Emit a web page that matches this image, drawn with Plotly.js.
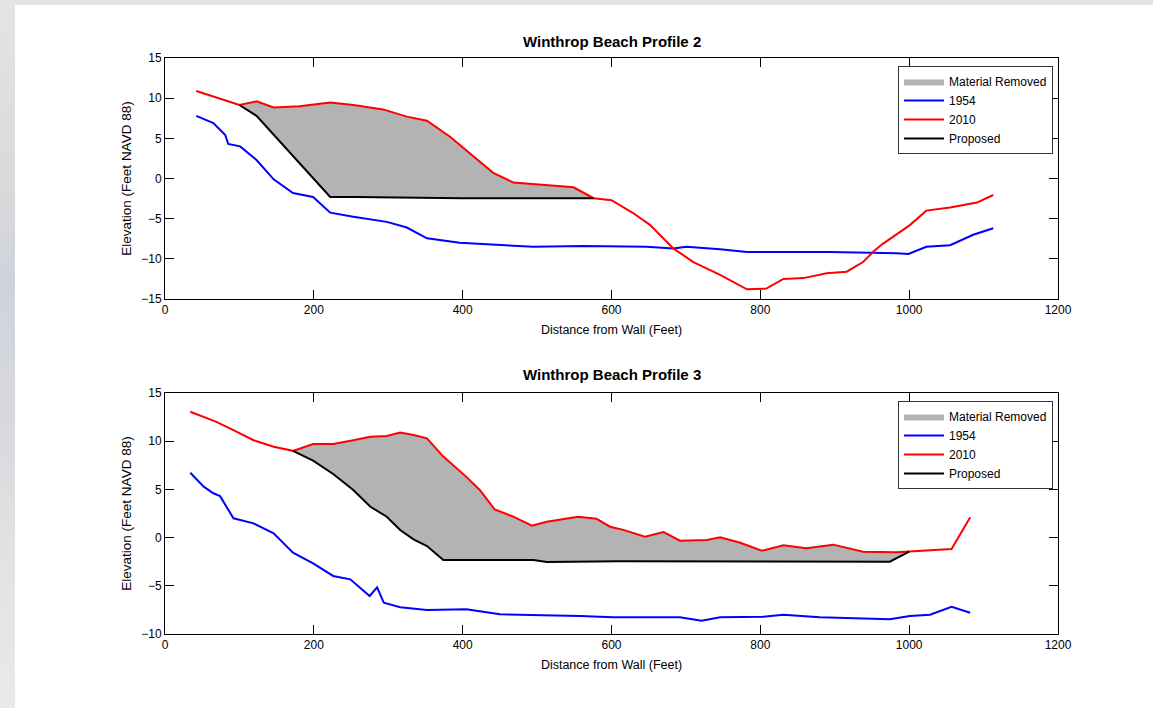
<!DOCTYPE html>
<html><head><meta charset="utf-8">
<script src="https://cdn.plot.ly/plotly-3.0.1.min.js"></script>
<style>
html,body{margin:0;padding:0;}
body{width:1153px;height:708px;overflow:hidden;position:relative;
background:linear-gradient(to bottom,#e4e4e4 0%,#dadada 25%,#cfd3dc 40%,#d8d9dd 60%,#e3e3e3 80%,#e9e9e9 100%);}
#panel{position:absolute;left:15px;top:5px;right:0;bottom:0;background:#fff;}
#chart{position:absolute;left:0;top:0;width:1153px;height:708px;}
</style></head><body><div id="panel"></div><div id="chart"></div>
<script>
// ---------- Profile 2 ----------
const p2_x_1954 = [42, 65, 81, 85, 101, 123, 146, 172, 199, 222, 253, 298, 325, 352, 396, 450, 495, 562, 611, 647, 683, 701, 746, 782, 826, 894, 983, 999, 1023, 1055, 1086, 1113];
const p2_y_1954 = [7.8, 6.9, 5.4, 4.3, 4.0, 2.3, -0.1, -1.8, -2.3, -4.25, -4.75, -5.4, -6.1, -7.45, -8.0, -8.3, -8.5, -8.4, -8.5, -8.5, -8.7, -8.5, -8.8, -9.15, -9.15, -9.15, -9.3, -9.4, -8.5, -8.3, -7.0, -6.2];
const p2_x_2010 = [42, 100, 123, 146, 181, 222, 253, 293, 325, 352, 383, 410, 441, 468, 495, 549, 576, 600, 629, 652, 683, 710, 746, 782, 808, 831, 858, 889, 916, 938, 952, 965, 1001, 1023, 1055, 1091, 1113];
const p2_y_2010 = [10.9, 9.15, 9.6, 8.85, 9.0, 9.45, 9.15, 8.6, 7.7, 7.2, 5.2, 3.1, 0.7, -0.5, -0.7, -1.1, -2.45, -2.7, -4.3, -5.8, -8.7, -10.4, -12.0, -13.8, -13.7, -12.5, -12.4, -11.8, -11.6, -10.4, -9.1, -8.1, -5.8, -4.0, -3.6, -3.0, -2.05];
const p2_x_prop = [100, 123, 222, 256, 399, 576];
const p2_y_prop = [9.15, 7.8, -2.3, -2.3, -2.45, -2.45];

// ---------- Profile 3 ----------
const p3_x_1954 = [34, 52, 65, 74, 92, 119, 146, 172, 199, 226, 249, 275, 285, 294, 316, 352, 405, 450, 508, 558, 602, 692, 721, 746, 804, 831, 880, 956, 974, 1001, 1028, 1057, 1082];
const p3_y_1954 = [6.73, 5.28, 4.6, 4.3, 2.0, 1.48, 0.44, -1.56, -2.67, -3.98, -4.33, -6.06, -5.16, -6.75, -7.23, -7.5, -7.44, -7.96, -8.06, -8.13, -8.27, -8.27, -8.62, -8.27, -8.2, -8.0, -8.27, -8.4, -8.48, -8.13, -8.0, -7.17, -7.8];
const p3_x_2010 = [34, 52, 69, 92, 119, 146, 172, 199, 226, 253, 276, 298, 316, 334, 352, 374, 405, 423, 443, 468, 493, 513, 531, 555, 580, 598, 616, 645, 670, 692, 728, 746, 773, 802, 831, 862, 898, 938, 983, 1000, 1028, 1057, 1082];
const p3_y_2010 = [13.06, 12.55, 12.0, 11.15, 10.1, 9.43, 9.0, 9.7, 9.7, 10.1, 10.47, 10.54, 10.9, 10.64, 10.3, 8.4, 6.3, 4.94, 2.93, 2.17, 1.24, 1.65, 1.9, 2.17, 1.95, 1.13, 0.8, 0.1, 0.58, -0.32, -0.25, 0.04, -0.53, -1.36, -0.8, -1.1, -0.73, -1.46, -1.53, -1.45, -1.36, -1.18, 2.1];
const p3_x_prop = [172, 199, 226, 253, 276, 298, 316, 334, 352, 374, 495, 513, 611, 974, 1000];
const p3_y_prop = [9.0, 7.98, 6.6, 4.94, 3.2, 2.17, 0.79, -0.18, -0.87, -2.32, -2.32, -2.53, -2.45, -2.5, -1.45];

const xTicks = [0, 200, 400, 600, 800, 1000, 1200];
const legendNames = ['Material Removed', '1954', '2010', 'Proposed'];
const titles = ['Winthrop Beach Profile 2', 'Winthrop Beach Profile 3'];
const xTitle = 'Distance from Wall (Feet)';
const yTitle = 'Elevation (Feet NAVD 88)';

function fillPoly(px, py, rx, ry) {
  const x0 = px[0], x1 = px[px.length - 1];
  const fx = px.slice(), fy = py.slice();
  for (let i = rx.length - 1; i >= 0; i--) {
    if (rx[i] >= x0 && rx[i] <= x1) { fx.push(rx[i]); fy.push(ry[i]); }
  }
  return {x: fx, y: fy};
}

const FONT = 'Liberation Sans, Arial, Helvetica, sans-serif';
function profileTraces(xa, ya, leg, bx, by, rx, ry, px, py) {
  const f = fillPoly(px, py, rx, ry);
  return [
    {type: 'scatter', x: f.x, y: f.y, xaxis: xa, yaxis: ya, legend: leg, name: legendNames[0],
     mode: 'lines', fill: 'toself', fillcolor: 'rgb(179,179,179)', line: {width: 0, color: 'rgb(179,179,179)'}, hoverinfo: 'skip'},
    {type: 'scatter', x: bx, y: by, xaxis: xa, yaxis: ya, legend: leg, name: legendNames[1],
     mode: 'lines', line: {color: '#0000ff', width: 2}},
    {type: 'scatter', x: rx, y: ry, xaxis: xa, yaxis: ya, legend: leg, name: legendNames[2],
     mode: 'lines', line: {color: '#ff0000', width: 2}},
    {type: 'scatter', x: px, y: py, xaxis: xa, yaxis: ya, legend: leg, name: legendNames[3],
     mode: 'lines', line: {color: '#000000', width: 2}}
  ];
}

const data = [].concat(
  profileTraces('x', 'y', 'legend', p2_x_1954, p2_y_1954, p2_x_2010, p2_y_2010, p2_x_prop, p2_y_prop),
  profileTraces('x2', 'y2', 'legend2', p3_x_1954, p3_y_1954, p3_x_2010, p3_y_2010, p3_x_prop, p3_y_prop)
);

function xAxis(anchor) {
  return {anchor: anchor, domain: [0, 1], range: [0, 1200], tickvals: xTicks, ticks: 'inside', ticklen: 9,
    tickcolor: '#000', showline: true, linecolor: '#000', linewidth: 1, mirror: 'ticks', showgrid: false, zeroline: false,
    tickfont: {family: FONT, size: 12, color: '#000'},
    title: {text: xTitle, font: {family: FONT, size: 12.5, color: '#000'}, standoff: 8}};
}
function yAxis(anchor, dom, rng) {
  return {anchor: anchor, domain: dom, range: rng, dtick: 5, ticks: 'inside', ticklen: 9,
    tickcolor: '#000', showline: true, linecolor: '#000', linewidth: 1, mirror: 'ticks', showgrid: false, zeroline: false,
    tickfont: {family: FONT, size: 12, color: '#000'},
    title: {text: yTitle, font: {family: FONT, size: 13.5, color: '#000'}, standoff: 6}};
}
function legendCfg(y) {
  return {x: 0.9944, xanchor: 'right', y: y, yanchor: 'top', bgcolor: '#fff', bordercolor: '#333', borderwidth: 1,
    font: {family: FONT, size: 12, color: '#000'}, itemwidth: 40, tracegroupgap: 0};
}

const layout = {
  width: 1153, height: 708,
  margin: {l: 165, r: 95, t: 58, b: 74},
  paper_bgcolor: 'rgba(0,0,0,0)', plot_bgcolor: '#fff',
  showlegend: true,
  xaxis: xAxis('y'), yaxis: yAxis('x', [0.5816, 1], [-15, 15]),
  xaxis2: xAxis('y2'), yaxis2: yAxis('x2', [0, 0.4184], [-10, 15]),
  legend: legendCfg(0.9861), legend2: legendCfg(0.4045),
  annotations: [
    {text: '<b>' + titles[0] + '</b>', xref: 'x domain', yref: 'y domain', x: 0.5, y: 1, xanchor: 'center', yanchor: 'bottom', yshift: 6, showarrow: false, font: {family: FONT, size: 15, color: '#000'}},
    {text: '<b>' + titles[1] + '</b>', xref: 'x2 domain', yref: 'y2 domain', x: 0.5, y: 1, xanchor: 'center', yanchor: 'bottom', yshift: 8, showarrow: false, font: {family: FONT, size: 15, color: '#000'}}
  ]
};

Plotly.newPlot('chart', data, layout, {staticPlot: true, displayModeBar: false});
</script></body></html>
